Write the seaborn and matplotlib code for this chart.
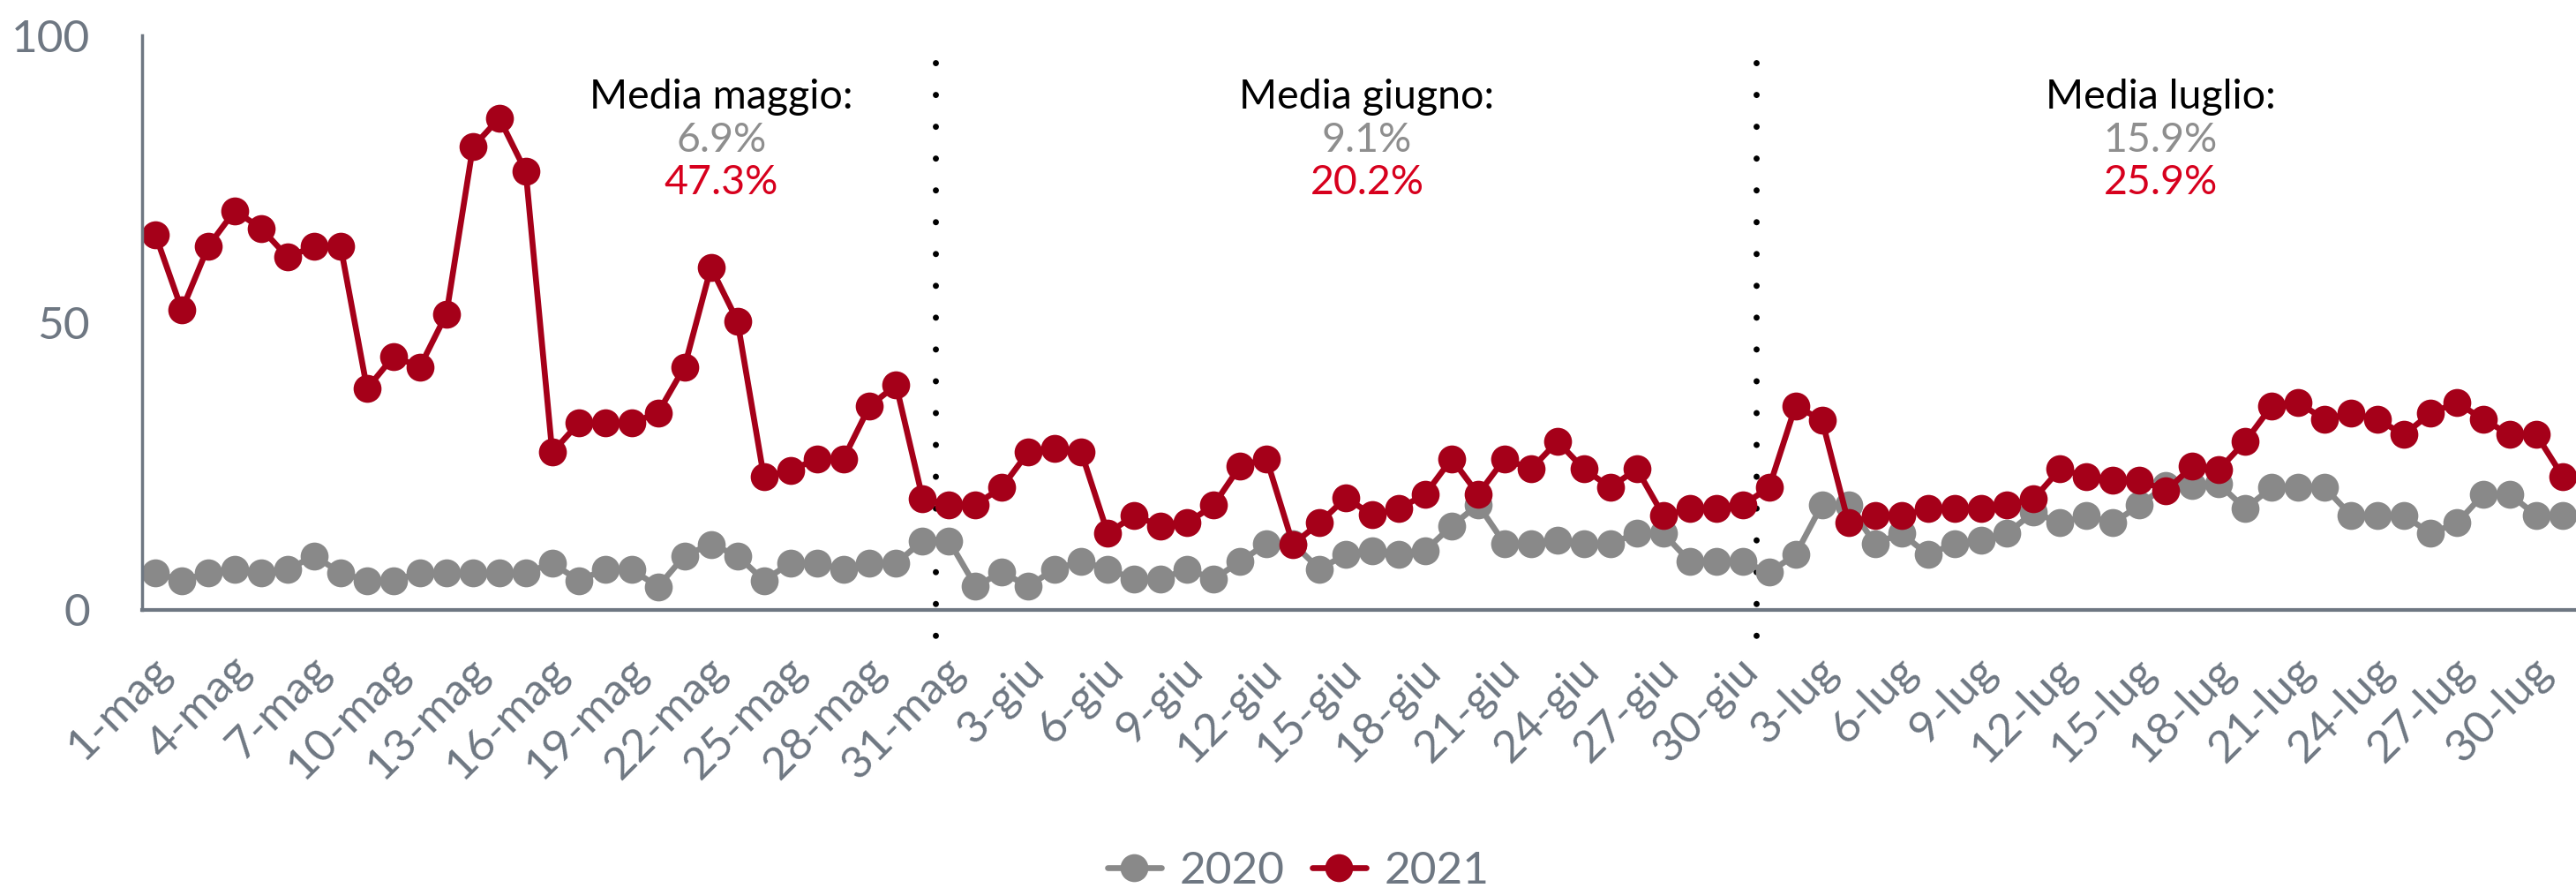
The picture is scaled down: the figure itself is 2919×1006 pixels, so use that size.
import matplotlib
matplotlib.use("Agg")
import matplotlib.pyplot as plt
import matplotlib.transforms as mtransforms
import seaborn as sns
import pandas as pd
import numpy as np

# ---------------- data ----------------
day_labels = (
    [f"{d}-mag" for d in range(1, 32)]
    + [f"{d}-giu" for d in range(1, 31)]
    + [f"{d}-lug" for d in range(1, 32)]
)

tick_labels = ["1-mag", "4-mag", "7-mag", "10-mag", "13-mag", "16-mag", "19-mag",
               "22-mag", "25-mag", "28-mag", "31-mag", "3-giu", "6-giu", "9-giu",
               "12-giu", "15-giu", "18-giu", "21-giu", "24-giu", "27-giu", "30-giu",
               "3-lug", "6-lug", "9-lug", "12-lug", "15-lug", "18-lug", "21-lug",
               "24-lug", "27-lug", "30-lug"]

v2020 = [6.4, 5.1, 6.4, 7.0, 6.4, 7.0, 9.4, 6.4, 5.1, 5.1, 6.4, 6.4, 6.4, 6.4, 6.4, 8.1,
         5.1, 7.0, 7.0, 4.0, 9.4, 11.4, 9.4, 5.1, 8.1, 8.1, 7.0, 8.1, 8.1, 12.0, 12.0, 4.1,
         6.5, 4.1, 7.1, 8.4, 7.1, 5.3, 5.3, 7.1, 5.3, 8.4, 11.5, 11.5, 7.1, 9.6, 10.3,
         9.6, 10.3, 14.6, 18.3, 11.5, 11.5, 12.1, 11.5, 11.5, 13.3, 13.3, 8.4, 8.4, 8.4, 6.5,
         9.6, 18.3, 18.3, 11.5, 13.3, 9.6, 11.5, 12.1, 13.3, 17.0, 15.1, 16.4, 15.1, 18.2, 21.6, 21.6,
         21.9, 17.6, 21.3, 21.3, 21.3, 16.4, 16.4, 16.4, 13.3, 15.1, 20.1, 20.1, 16.4, 16.4]

v2021 = [65.3, 52.2, 63.3, 69.5, 66.4, 61.4, 63.3, 63.3, 38.5, 44.1, 42.3, 51.5, 80.6, 85.6, 76.3, 27.4,
         32.5, 32.5, 32.5, 34.3, 42.3, 59.6, 50.3, 23.1, 24.3, 26.2, 26.2, 35.5, 39.1, 19.4, 18.3, 18.3,
         21.3, 27.5, 28.1, 27.4, 13.3, 16.4, 14.6, 15.1, 18.2, 25.0, 26.3, 11.4, 15.1, 19.5, 16.5,
         17.6, 20.1, 26.3, 20.1, 26.3, 24.5, 29.3, 24.5, 21.3, 24.5, 16.4, 17.6, 17.6, 18.2, 21.3,
         35.5, 33.0, 15.1, 16.4, 16.4, 17.6, 17.6, 17.6, 18.2, 19.3, 24.5, 23.2, 22.6, 22.6, 20.7, 25.0,
         24.4, 29.3, 35.5, 36.1, 33.1, 34.2, 33.1, 30.5, 34.2, 36.1, 33.1, 30.5, 30.5, 23.2]

years = ["2020", "2021"]
month_titles = ["Media maggio:", "Media giugno:", "Media luglio:"]
avg2020 = ["6.9%", "9.1%", "15.9%"]
avg2021 = ["47.3%", "20.2%", "25.9%"]
month_breaks = [29.5, 60.5]
y_ticks = [0, 50, 100]

# ---------------- style ----------------
sns.set_theme(style="white")
plt.rcParams["font.family"] = ["Lato", "DejaVu Sans"]

GRAY = "#898989"
RED = "#a50019"
TXT_GRAY = "#8e8e8e"
TXT_RED = "#d7001d"
AXIS = "#6e7782"

df = pd.DataFrame({
    "idx": list(range(len(v2020))) * 2,
    "val": v2020 + v2021,
    "year": [years[0]] * len(v2020) + [years[1]] * len(v2021),
})

fig = plt.figure(figsize=(29.19, 10.06), dpi=100)
ax = fig.add_axes([0.0552, 0.3134, 0.9448, 0.6466])

sns.lineplot(data=df, x="idx", y="val", hue="year", hue_order=years,
             palette={years[0]: GRAY, years[1]: RED}, ax=ax,
             marker="o", markersize=22.8, markeredgewidth=0,
             linewidth=4.8, legend=False)

ax.set_xlim(-0.5, len(v2020) - 0.5)
ax.set_ylim(0, 100)

# dotted month separators
for xb in month_breaks:
    ax.plot([xb, xb], [95.3, -4.5], color="black", linewidth=5,
            linestyle=(0, (0.01, 5.18)), dash_capstyle="round",
            clip_on=False, zorder=1)

# month annotations
centers = [21.4, 45.8, 75.8]
for cx, t, a, b in zip(centers, month_titles, avg2020, avg2021):
    ax.text(cx, 87.3, t, ha="center", va="baseline", fontsize=33.5, color="black")
    ax.text(cx, 79.8, a, ha="center", va="baseline", fontsize=33.5, color=TXT_GRAY)
    ax.text(cx, 72.4, b, ha="center", va="baseline", fontsize=33.5, color=TXT_RED)

# axes styling
for s in ["top", "right"]:
    ax.spines[s].set_visible(False)
ax.spines["left"].set_color(AXIS)
ax.spines["left"].set_linewidth(2.5)
ax.spines["bottom"].set_color(AXIS)
ax.spines["bottom"].set_linewidth(3)

ax.set_yticks(y_ticks)
ax.set_yticklabels([str(v) for v in y_ticks])
ax.tick_params(axis="y", length=0, pad=42.5, labelsize=37, labelcolor=AXIS)

tick_pos = [day_labels.index(l) for l in tick_labels]
ax.set_xticks(tick_pos)
ax.set_xticklabels(tick_labels, rotation=45, ha="right", va="center",
                   rotation_mode="anchor")
ax.tick_params(axis="x", length=0, pad=44, labelsize=37, labelcolor=AXIS)
offset = mtransforms.ScaledTranslation(10 / 100, 0, fig.dpi_scale_trans)
for lab in ax.get_xticklabels():
    lab.set_transform(lab.get_transform() + offset)

ax.set_xlabel("")
ax.set_ylabel("")
ax.grid(False)

# legend
from matplotlib.lines import Line2D
handles = [Line2D([], [], color=GRAY, marker="o", markersize=22.8, markeredgewidth=0, linewidth=4.8),
           Line2D([], [], color=RED, marker="o", markersize=22.8, markeredgewidth=0, linewidth=4.8)]
leg = fig.legend(handles, years, loc="center", bbox_to_anchor=(0.504, 0.019), ncol=2,
                 frameon=False, fontsize=37, handlelength=1.2, handletextpad=0.4,
                 columnspacing=0.6, labelcolor=AXIS, borderaxespad=0, borderpad=0)

fig.savefig("out.png", dpi=100)
